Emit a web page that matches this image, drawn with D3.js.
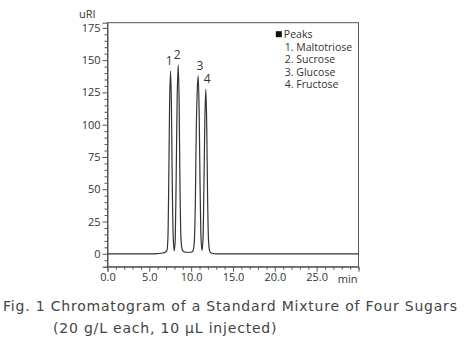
<!DOCTYPE html>
<html>
<head>
<meta charset="utf-8">
<script src="https://cdn.jsdelivr.net/npm/d3@7"></script>
<style>
  html, body { margin: 0; padding: 0; background: #fff; }
  #chart { width: 469px; height: 351px; }
</style>
</head>
<body>
<div id="chart"></div>
<script>
// trace (min, uRI)
const tempos = [0, 5, 6.0, 6.6, 6.9, 7.1, 7.22, 7.32, 7.42, 7.54, 7.64, 7.74, 7.86, 7.98,
  8.1, 8.2, 8.32, 8.45, 8.56, 8.66, 8.78, 8.92, 9.1, 9.5, 10.0, 10.2, 10.36, 10.5, 10.62,
  10.72, 10.84, 10.95, 11.06, 11.18, 11.3, 11.42, 11.53, 11.64, 11.75, 11.86, 11.96,
  12.08, 12.22, 12.45, 13, 30];
const sinal = [0, 0, 0.2, 0.6, 1.2, 2.5, 12, 55, 115, 141.6, 115, 55, 12, 2.3,
  12, 55, 118, 146.3, 118, 55, 12, 3.5, 1.6, 1.2, 1.2, 2, 8, 40, 100,
  125, 137.8, 112, 55, 12, 2.5, 12, 55, 105, 127.4, 100, 45,
  10, 2, 0.4, 0, 0];

// picos identificados
const picosNum = ["1", "2", "3", "4"];
const picosTempo = [7.54, 8.45, 10.84, 11.75];
const picosAltura = [141.6, 146.3, 137.8, 127.4];
const picosNome = ["Maltotriose", "Sucrose", "Glucose", "Fructose"];

const xTicks = [0, 5, 10, 15, 20, 25];
const yTicks = [0, 25, 50, 75, 100, 125, 150, 175];

const dados = tempos.map((t, i) => ({ t: t, v: sinal[i] }));

const width = 469, height = 351;
const margins = { top: 22.7, right: 110.5, bottom: 84.3, left: 107.5 };
const corTexto = "#333";
const fonte = "'Open Sans', 'Noto Sans', sans-serif";

const svg = d3.select("#chart").append("svg")
  .attr("width", width)
  .attr("height", height);

//Escalas
const xScale = d3.scaleLinear()
  .domain([0, 30])
  .range([margins.left, width - margins.right]);

const yScale = d3.scaleLinear()
  .domain([-10, 179])
  .range([height - margins.bottom, margins.top]);

//Moldura
svg.append("rect")
  .attr("x", xScale(0))
  .attr("y", yScale(179))
  .attr("width", xScale(30) - xScale(0))
  .attr("height", yScale(-10) - yScale(179))
  .attr("fill", "none")
  .attr("stroke", "#555")
  .attr("stroke-width", 1);

//Eixo x - ticks menores
svg.append("g")
  .attr("transform", `translate(0, ${yScale(-10)})`)
  .call(d3.axisBottom(xScale)
    .tickValues(d3.range(0, 31, 1).filter(d => d % 5 !== 0 || d === 30))
    .tickSize(3)
    .tickFormat(""))
  .call(g => g.select(".domain").remove());

//Eixo x - ticks principais
svg.append("g")
  .attr("transform", `translate(0, ${yScale(-10)})`)
  .call(d3.axisBottom(xScale)
    .tickValues(xTicks)
    .tickSize(5)
    .tickPadding(2)
    .tickFormat(d3.format(".1f")))
  .call(g => g.select(".domain").attr("stroke", "#555"));

//Eixo y - ticks menores
svg.append("g")
  .attr("transform", `translate(${xScale(0)}, 0)`)
  .call(d3.axisLeft(yScale)
    .tickValues(d3.range(-10, 176, 5).filter(d => d % 25 !== 0))
    .tickSize(3)
    .tickFormat(""))
  .call(g => g.select(".domain").remove());

//Eixo y - ticks principais
svg.append("g")
  .attr("transform", `translate(${xScale(0)}, 0)`)
  .call(d3.axisLeft(yScale)
    .tickValues(yTicks)
    .tickSize(5)
    .tickPadding(2))
  .call(g => g.select(".domain").attr("stroke", "#555"));

svg.selectAll(".tick line").attr("stroke", "#555");
svg.selectAll(".tick text")
  .attr("fill", corTexto)
  .style("font-family", fonte)
  .style("font-size", "11px");

svg.append("text")
  .attr("x", xScale(30) - 1)
  .attr("y", yScale(-10) + 16)
  .attr("text-anchor", "end")
  .style("font-family", fonte)
  .style("font-size", "11px")
  .attr("fill", corTexto)
  .text("min");

svg.append("text")
  .attr("x", margins.left - 12)
  .attr("y", margins.top - 5)
  .attr("text-anchor", "end")
  .style("font-family", fonte)
  .style("font-size", "11px")
  .attr("fill", corTexto)
  .text("uRI");

//Cromatograma
const line = d3.line()
  .x(d => xScale(d.t))
  .y(d => yScale(d.v))
  .curve(d3.curveMonotoneX);

svg.append("path")
  .datum(dados)
  .attr("fill", "none")
  .attr("stroke", "#333")
  .attr("stroke-width", 1.2)
  .attr("d", line);

//Numeros dos picos
const dxPico = [-1.5, -1, 1.7, 1.3];
svg.selectAll(".pico")
  .data(picosNum)
  .join("text")
  .attr("class", "pico")
  .attr("x", (d, i) => xScale(picosTempo[i]) + dxPico[i])
  .attr("y", (d, i) => yScale(picosAltura[i]) - 6)
  .attr("text-anchor", "middle")
  .style("font-family", fonte)
  .style("font-size", "12px")
  .attr("fill", corTexto)
  .text(d => d);

//Legenda
const leg = svg.append("g")
  .attr("transform", `translate(${xScale(20)}, ${margins.top})`);

leg.append("rect")
  .attr("x", 1)
  .attr("y", 8.5)
  .attr("width", 6)
  .attr("height", 6)
  .attr("fill", "#111");

leg.append("text")
  .attr("x", 9)
  .attr("y", 15.5)
  .style("font-family", fonte)
  .style("font-size", "10.5px")
  .attr("fill", corTexto)
  .text("Peaks");

leg.selectAll(".item")
  .data(picosNome)
  .join("text")
  .attr("class", "item")
  .attr("x", 10)
  .attr("y", (d, i) => 28.5 + i * 12.2)
  .style("font-family", fonte)
  .style("font-size", "10.5px")
  .attr("fill", corTexto)
  .text((d, i) => `${picosNum[i]}. ${d}`);

//Legenda da figura
const legenda = [
  "Fig. 1 Chromatogram of a Standard Mixture of Four Sugars",
  "(20 g/L each, 10 \u03bcL injected)"
];
const legX = [3, 53];
svg.selectAll(".caption")
  .data(legenda)
  .join("text")
  .attr("class", "caption")
  .attr("x", (d, i) => legX[i])
  .attr("y", (d, i) => 310.5 + i * 22.5)
  .attr("font-family", "DejaVu Sans, sans-serif")
  .attr("font-size", 14)
  .attr("letter-spacing", 0.8)
  .attr("fill", "#444")
  .text(d => d);
</script>
</body>
</html>
